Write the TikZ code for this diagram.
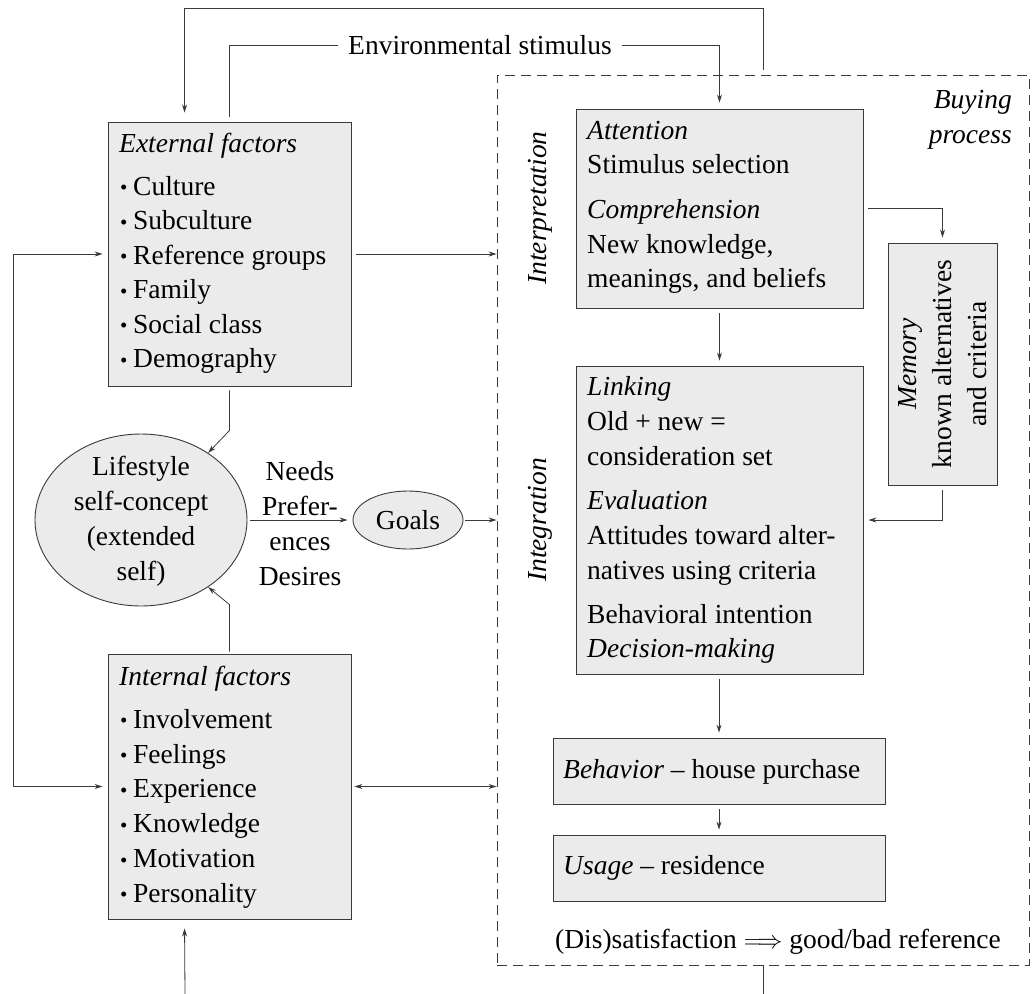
\documentclass[tikz,border=0pt]{standalone}
\usepackage{fontspec}
\setmainfont{Liberation Serif}
\usetikzlibrary{arrows.meta,shapes.geometric}
\definecolor{boxgray}{HTML}{EBEBEB}
\definecolor{edge}{HTML}{3A3A3A}
\newcommand{\bul}{\makebox[13pt][l]{\raisebox{0.5pt}{\fontsize{21}{21}\selectfont\textbullet}}}
\begin{document}
\begin{tikzpicture}[x=1pt,y=-1pt,
  every node/.style={font=\fontsize{27.5}{35}\selectfont},
  box/.style={draw=edge, fill=boxgray, line width=0.9pt, inner sep=0pt, rectangle},
  oval/.style={draw=edge, fill=boxgray, line width=0.9pt, inner sep=0pt, ellipse},
  tx/.style={anchor=base west, inner sep=0pt},
  ln/.style={draw=edge, line width=0.8pt},
  arr/.style={ln, -{Stealth[length=8pt,width=5pt]}},
  darr/.style={ln, {Stealth[length=8pt,width=5pt]}-{Stealth[length=8pt,width=5pt]}}]
\useasboundingbox (0,0) rectangle (1032,993);

% dashed buying process frame
\node[draw=edge, line width=0.9pt, dash pattern=on 10pt off 6pt, minimum width=532, minimum height=890, inner sep=0pt] (bp) at (763,520) {};

% boxes
\node[box, minimum width=243, minimum height=264] (ext) at (229.5,254) {};
\node[box, minimum width=243, minimum height=265] (int) at (229.5,786.5) {};
\node[box, minimum width=287, minimum height=199] (att) at (719.5,208.5) {};
\node[box, minimum width=287, minimum height=308] (link) at (719.5,520) {};
\node[box, minimum width=109, minimum height=242] (mem) at (942.5,364) {};
\node[box, minimum width=332, minimum height=66] (beh) at (719,771) {};
\node[box, minimum width=332, minimum height=66] (use) at (719,868) {};
\node[oval, minimum width=212, minimum height=172] (life) at (141,520) {};
\node[oval, minimum width=110, minimum height=58] (goals) at (408,520) {Goals};

% external factors text
\node[tx] (e0) at (119,152) {\textit{External factors}};
\foreach \t [count=\i] in {Culture, Subculture, Reference groups, Family, Social class, Demography}
  \node[tx] (e\i) at (120,160.5+34.5*\i) {\bul\t};

% internal factors text
\node[tx] (i0) at (119,685) {\textit{Internal factors}};
\foreach \t [count=\i] in {Involvement, Feelings, Experience, Knowledge, Motivation, Personality}
  \node[tx] (i\i) at (120,693.5+34.8*\i) {\bul\t};

% attention / comprehension
\node[tx] (a1) at (587,139) {\textit{Attention}};
\node[tx] (a2) at (587,173) {Stimulus selection};
\node[tx] (a3) at (587,218) {\textit{Comprehension}};
\node[tx] (a4) at (587,253) {New knowledge,};
\node[tx] (a5) at (587,287) {meanings, and beliefs};

% linking / evaluation
\node[tx] (l1) at (587,395) {\textit{Linking}};
\node[tx] (l2) at (587,430) {Old + new =};
\node[tx] (l3) at (587,465) {consideration set};
\node[tx] (l4) at (587,509) {\textit{Evaluation}};
\node[tx] (l5) at (587,544) {Attitudes toward alter-};
\node[tx] (l6) at (587,579) {natives using criteria};
\node[tx] (l7) at (587,623) {Behavioral intention};
\node[tx] (l8) at (587,657) {\textit{Decision-making}};

% behavior / usage
\node[tx] (b1) at (563,778) {\textit{Behavior} -- house purchase};
\node[tx] (u1) at (563,874) {\textit{Usage} -- residence};
\node[tx] (dis) at (555,948) {(Dis)satisfaction\ \ensuremath{\Longrightarrow}\ good/bad reference};

% memory
\node[rotate=90, align=center, inner sep=0pt] (memt) at (942.5,364) {\textit{Memory}\\known alternatives\\and criteria};

% side labels
\node[rotate=90, inner sep=0pt] (interp) at (540,208) {\textit{Interpretation}};
\node[rotate=90, inner sep=0pt] (integ) at (540,520) {\textit{Integration}};
\node[anchor=base east, inner sep=0pt] (bp1) at (1012,108) {\textit{Buying}};
\node[anchor=base east, inner sep=0pt] (bp2) at (1012,143) {\textit{process}};

% lifestyle and needs
\node[align=center, inner sep=0pt] (lifet) at (141,521) {Lifestyle\\self-concept\\(extended\\self)};
\node[align=center, inner sep=0pt] (needs) at (300,524) {Needs\\Prefer-\\ences\\Desires};

% environmental stimulus
\node[inner sep=0pt] (env) at (480,45) {Environmental stimulus};

% helper coordinates
\coordinate (yC) at (0,208);
\coordinate (loopL) at (13,520);
\coordinate (botL) at (185,995);

% connectors
\draw[arr] ([yshift=5pt]bp.north) -- (bp.north |- 0,8) -| ([xshift=77pt,yshift=9pt]ext.north west);
\draw[ln] ([yshift=5pt]ext.north) |- ([xshift=-10pt]env.west);
\draw[arr] ([xshift=10pt]env.east) -| ([yshift=6pt]att.north);
\draw[arr] ([xshift=5pt]ext.east) -- (bp.west |- ext.east);
\draw[arr] (loopL) |- ([xshift=-5pt]ext.west);
\draw[arr] (loopL) |- ([xshift=-5pt]int.west);
\draw[darr] ([xshift=3pt]int.east) -- (bp.west |- int.east);
\draw[arr] ([yshift=-4pt]ext.south) -- ++(0,40) -- (life.45);
\draw[arr] ([yshift=2pt]int.north) -- ++(0,-47) -- (life.-45);
\draw[arr, shorten <=3pt, shorten >=5pt] (life.east) -- (goals.west);
\draw[arr] ([xshift=2pt]goals.east) -- (bp.west |- goals.east);
\draw[arr] ([yshift=-5pt]att.south) -- ([yshift=5pt]link.north);
\draw[arr] ([xshift=5pt]att.east |- yC) -| ([yshift=5pt]mem.north);
\draw[arr] ([yshift=-5pt]mem.south) |- ([xshift=5pt]link.east);
\draw[arr] ([yshift=-5pt]link.south -| beh.north) -- ([yshift=5pt]beh.north);
\draw[arr] ([yshift=-5pt]beh.south) -- ([yshift=5pt]use.north);
\draw[ln] (bp.south) -- ++(0,30);
\draw[arr] (botL) -- ([xshift=77pt,yshift=-9pt]int.south west);
\end{tikzpicture}
\end{document}
